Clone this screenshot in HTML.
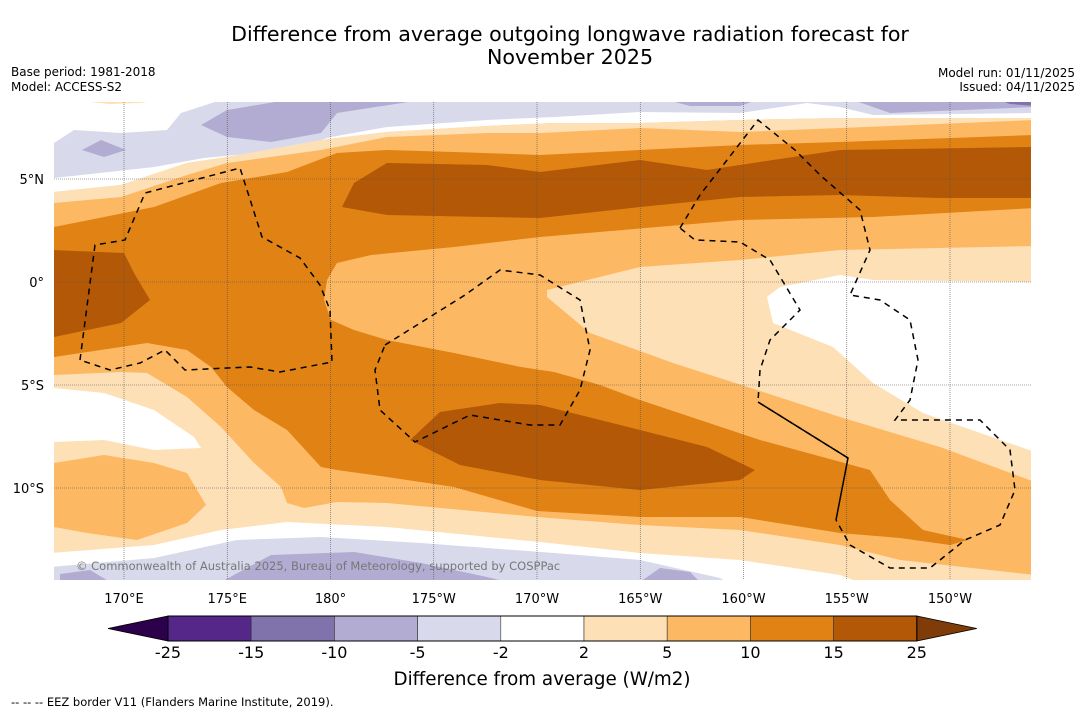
<!DOCTYPE html>
<html><head><meta charset="utf-8">
<style>
body{margin:0;background:#fff;width:1085px;height:713px;overflow:hidden;font-family:"DejaVu Sans","Liberation Sans",sans-serif;}
</style></head>
<body>
<svg id="fig" width="1085" height="713" xmlns="http://www.w3.org/2000/svg" font-family="DejaVu Sans, Liberation Sans, sans-serif">
<text x="570" y="41" font-size="20.6" text-anchor="middle">Difference from average outgoing longwave radiation forecast for</text>
<text x="570" y="64" font-size="20.6" text-anchor="middle">November 2025</text>
<text x="11" y="76" font-size="12">Base period: 1981-2018</text>
<text x="11" y="91" font-size="12">Model: ACCESS-S2</text>
<text x="1075" y="77" font-size="12" text-anchor="end">Model run: 01/11/2025</text>
<text x="1075" y="91" font-size="12" text-anchor="end">Issued: 04/11/2025</text>
<defs><clipPath id="mapclip"><rect x="54" y="102" width="977" height="478"/></clipPath></defs>
<g id="map" clip-path="url(#mapclip)">
<rect x="54" y="102" width="977" height="478" fill="#fdb863"/>
<path fill="#ffffff" d="M50,100 H1035 V118 L840,118 L740,120 L640,123 L554,123 L487,126 L387,132 L321,140 L227,157 L187,163 L121,185 L54,192 L50,192 Z"/>
<path fill="#d8daeb" d="M221,100 L1035,100 V113 L873,115 L840,107 L807,103 L740,113 L640,112 L554,117 L487,120 L387,127 L331,137 L287,150 L204,158 L154,167 L54,178 V143 L74,130 L121,133 L167,130 L181,113 Z"/>
<path fill="#b2abd2" d="M201,125 L227,110 L287,100 L421,100 L337,113 L321,133 L271,142 L227,137 Z"/>
<path fill="#b2abd2" d="M82,150 L101,140 L126,150 L104,157 Z"/>
<path fill="#b2abd2" d="M667,100 L757,100 L740,106 L690,106 Z M853,100 L1035,100 V107 L890,113 Z"/>
<path fill="#8073ac" d="M1000,100 H1035 V106 L1010,104 Z"/>
<path fill="#fee0b6" d="M70,100 L160,100 L140,103 L110,104 Z"/>
<path fill="#fee0b6" d="M54,192 L121,185 L187,163 L227,157 L321,140 L387,132 L487,126 L554,123 L640,123 L740,120 L840,118 L1035,118 V120 L840,128 L740,132 L640,128 L540,133 L487,133 L387,137 L321,150 L227,163 L187,175 L121,197 L54,203 Z"/>
<path fill="#e08214" d="M54,227 L154,207 L221,183 L287,172 L337,153 L387,150 L454,152 L540,155 L640,150 L740,145 L840,142 L1035,135 V208 L873,217 L740,220 L540,237 L454,247 L371,255 L337,263 L327,280 L324,300 L331,320 L354,330 L387,340 L454,353 L521,367 L554,372 L600,385 L640,400 L700,420 L760,440 L870,470 L890,500 L923,530 L968,540 L950,545 L900,538 L840,533 L740,517 L640,517 L537,511 L454,487 L387,477 L337,470 L321,467 L287,430 L254,410 L227,387 L211,367 L187,350 L147,343 L54,357 Z"/>
<path fill="#b35806" d="M342,207 L354,183 L387,163 L487,165 L540,172 L640,160 L707,170 L773,160 L840,150 L1035,147 V198 L940,198 L840,195 L740,197 L640,207 L540,218 L487,217 L387,215 Z"/>
<path fill="#b35806" d="M50,250 L124,253 L134,273 L150,300 L121,323 L54,337 L50,337 Z"/>
<path fill="#b35806" d="M410,440 L440,412 L500,403 L540,405 L640,430 L707,447 L755,470 L740,480 L640,490 L540,480 L460,465 Z"/>
<path fill="#fee0b6" d="M547,297 L547,290 L640,267 L740,260 L840,250 L1035,246 V482 L940,447 L840,417 L757,390 L673,363 L590,333 Z"/>
<path fill="#ffffff" d="M767,297 L780,287 L840,275 L873,280 L1035,282 V452 L923,413 L873,383 L833,347 L773,323 Z"/>
<path fill="#fee0b6" d="M54,375 L121,372 L147,373 L187,397 L221,427 L254,463 L281,487 L287,503 L304,508 L337,502 L387,503 L537,517 L640,525 L740,530 L840,545 L900,560 L1035,575 V590 H50 V375 Z"/>
<path fill="#ffffff" d="M54,388 L104,393 L154,410 L194,437 L201,448 L154,450 L104,440 L54,442 Z"/>
<path fill="#fdb863" d="M54,463 L104,455 L154,463 L187,473 L206,505 L187,523 L137,540 L87,533 L54,527 Z"/>
<path fill="#ffffff" d="M50,553 L154,545 L221,530 L287,522 L387,527 L540,542 L640,553 L740,560 L840,575 L880,590 L50,590 Z"/>
<path fill="#d8daeb" d="M50,567 L154,558 L237,540 L321,537 L421,543 L554,553 L640,560 L720,578 L740,590 L50,590 Z"/>
<path fill="#b2abd2" d="M221,582 L271,555 L354,552 L421,563 L487,577 L540,590 L221,590 Z M60,574 L90,570 L110,582 L60,582 Z M640,582 L660,568 L690,572 L700,582 Z"/>
<g id="grid"></g>
<g fill="none" stroke="#000" stroke-width="1.5" stroke-dasharray="6,5">
<path d="M80,360 L95,245 L125,240 L145,193 L240,168 L262,237 L300,258 L320,285 L330,310 L332,362 L280,372 L250,367 L185,370 L165,350 L140,363 L110,370 Z"/>
<path d="M385,345 L465,295 L500,270 L540,275 L580,300 L590,350 L580,390 L560,425 L530,425 L470,415 L415,442 L380,410 L375,370 Z"/>
<path d="M680,228 L700,195 L758,120 L795,150 L820,175 L860,210 L870,250 L850,295 L880,300 L910,320 L918,360 L910,400 L895,420 L930,420 L980,420 L1010,450 L1015,490 L1000,525 L965,540 L930,568 L890,568 L850,545 L836,520 M848,458 L758,402 L760,370 L770,340 L800,310 L770,260 L740,242 L695,240 L680,228"/>
<path stroke-dasharray="none" d="M758,402 L848,458 L836,520"/>
</g>
<text x="76" y="570" font-size="11.5" fill="#777">© Commonwealth of Australia 2025, Bureau of Meteorology, supported by COSPPac</text>
</g>
<g id="axes"></g>
<g id="cbar"></g>
<text x="542" y="685" font-size="18.3" text-anchor="middle">Difference from average (W/m2)</text>
<text x="11" y="706" font-size="11.5">--  --  -- EEZ border V11 (Flanders Marine Institute, 2019).</text>
</svg>
<script>
const lonTicks=[170,175,180,185,190,195,200,205,210];
const lonLabels=["170°E","175°E","180°","175°W","170°W","165°W","160°W","155°W","150°W"];
const latTicks=[5,0,-5,-10];
const latLabels=["5°N","0°","5°S","10°S"];
const cbBounds=["-25","-15","-10","-5","-2","2","5","10","15","25"];
const cbColors=["#542788","#8073ac","#b2abd2","#d8daeb","#ffffff","#fee0b6","#fdb863","#e08214","#b35806"];
const cbUnder="#2d004b", cbOver="#7f3b08";
const NS="http://www.w3.org/2000/svg";
function xLon(l){return 124+(l-170)*20.65;}
function yLat(l){return 282-l*20.6;}
function mk(t,a,p){const e=document.createElementNS(NS,t);for(const k in a)e.setAttribute(k,a[k]);p.appendChild(e);return e;}
const grid=document.getElementById('grid'),axes=document.getElementById('axes'),cb=document.getElementById('cbar');
lonTicks.forEach((l,i)=>{
 const ln=mk('line',{x1:xLon(l),x2:xLon(l),y1:102,y2:580,stroke:'#555','stroke-width':0.6,'stroke-dasharray':'1,1'},grid);
 
 
 const t=mk('text',{x:xLon(l),y:603,'font-size':13,'text-anchor':'middle'},axes);t.textContent=lonLabels[i];
 
 
});
latTicks.forEach((l,i)=>{
 const ln=mk('line',{x1:54,x2:1031,y1:yLat(l),y2:yLat(l),stroke:'#555','stroke-width':0.6,'stroke-dasharray':'1,1'},grid);
 
 
 const t=mk('text',{x:44,y:yLat(l)+5,'font-size':13,'text-anchor':'end'},axes);t.textContent=latLabels[i];
 
 
});
const cx0=168,cw=83.2,cy=616,ch=25;
const tl=mk('polygon',{points:`108,${cy+ch/2} ${cx0},${cy} ${cx0},${cy+ch}`,fill:cbUnder,stroke:'#000','stroke-width':0.8},cb);


cbColors.forEach((c,i)=>{
 const r=mk('rect',{x:cx0+i*cw,y:cy,width:cw,height:ch,fill:c,stroke:'#333','stroke-width':0.6},cb);
 
 
});
const xe=cx0+cbColors.length*cw;
const tr=mk('polygon',{points:`${xe},${cy} ${xe+60},${cy+ch/2} ${xe},${cy+ch}`,fill:cbOver,stroke:'#000','stroke-width':0.8},cb);


mk('rect',{x:cx0,y:cy,width:xe-cx0,height:ch,fill:'none',stroke:'#000','stroke-width':1},cb);
cbBounds.forEach((b,i)=>{
 const t=mk('text',{x:cx0+i*cw,y:658,'font-size':16,'text-anchor':'middle'},cb);t.textContent=b;
 
 
});
</script>
</body></html>
